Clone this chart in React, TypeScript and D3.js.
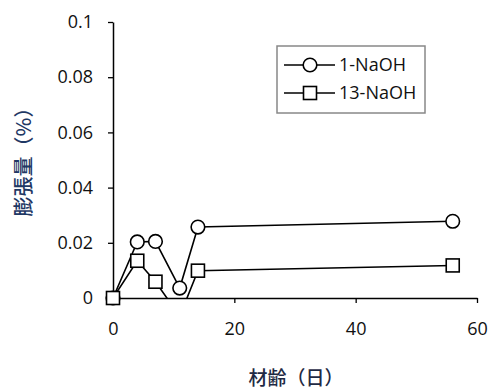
import React, { useRef, useEffect } from "react";
import * as d3 from "d3";

const days1 = [0, 4, 7, 11, 14, 56];
const vals1 = [0, 0.0203, 0.0205, 0.0036, 0.0257, 0.0278];
const days13 = [0, 4, 7, 11, 14, 56];
const vals13 = [0, 0.0135, 0.0059, -0.0066, 0.0099, 0.0118];
const seriesNames = ["1-NaOH", "13-NaOH"];
const xTicks = [0, 20, 40, 60];
const yTicks = [0, 0.02, 0.04, 0.06, 0.08, 0.1];

const W = 488;
const H = 390;

const App = () => {
  const svgRef = useRef<SVGSVGElement>(null);

  useEffect(() => {
    const svg = d3.select(svgRef.current);
    svg.selectAll("*").remove();

    const x = d3.scaleLinear().domain([0, 60]).range([113, 477]);
    const y = d3.scaleLinear().domain([0, 0.1]).range([298, 22]);
    const font = "'Open Sans', 'Liberation Sans', sans-serif";
    const cjk = "'Noto Sans CJK JP', sans-serif";

    svg
      .append("defs")
      .append("clipPath")
      .attr("id", "plot")
      .append("rect")
      .attr("x", x(0))
      .attr("y", y(0.1))
      .attr("width", x(60) - x(0))
      .attr("height", y(0) - y(0.1));

    // axes
    const yAxis = svg.append("g").attr("transform", `translate(${x(0)},0)`);
    yAxis.call(d3.axisLeft(y).tickValues(yTicks).tickSize(5).tickSizeOuter(0).tickFormat((d) => (d === 0 ? "0" : d3.format("")(+d))));
    yAxis.select(".domain").attr("stroke-width", 1.5);
    yAxis.selectAll(".tick line").attr("stroke-width", 1.3);
    yAxis
      .selectAll(".tick text")
      .attr("x", -20)
      .attr("font-size", 18)
      .attr("font-family", font)
      .attr("fill", "#111");

    const xAxis = svg.append("g").attr("transform", `translate(0,${y(0)})`);
    xAxis.call(d3.axisBottom(x).tickValues(xTicks).tickSize(5).tickSizeOuter(0));
    xAxis.select(".domain").attr("stroke-width", 1.5);
    xAxis.selectAll(".tick line").attr("stroke-width", 1.3);
    xAxis
      .selectAll(".tick text")
      .attr("y", 24)
      .attr("font-size", 18)
      .attr("font-family", font)
      .attr("fill", "#111");

    const series = [
      { name: seriesNames[0], pts: days1.map((d, i) => [d, vals1[i]]), shape: "circle" },
      { name: seriesNames[1], pts: days13.map((d, i) => [d, vals13[i]]), shape: "square" },
    ];

    const line = d3
      .line<number[]>()
      .x((d) => x(d[0]))
      .y((d) => y(d[1]));

    const marker = (g: any, shape: string, cx: number, cy: number) => {
      if (shape === "circle") {
        g.append("circle")
          .attr("cx", cx)
          .attr("cy", cy)
          .attr("r", 6.8)
          .attr("fill", "#fff")
          .attr("stroke", "#000")
          .attr("stroke-width", 1.6);
      } else {
        g.append("rect")
          .attr("x", cx - 6.5)
          .attr("y", cy - 6.5)
          .attr("width", 13)
          .attr("height", 13)
          .attr("fill", "#fff")
          .attr("stroke", "#000")
          .attr("stroke-width", 1.6);
      }
    };

    series.forEach((s) => {
      svg
        .append("path")
        .datum(s.pts)
        .attr("clip-path", "url(#plot)")
        .attr("fill", "none")
        .attr("stroke", "#000")
        .attr("stroke-width", 1.6)
        .attr("d", line);
    });
    series.forEach((s) => {
      const g = svg.append("g");
      s.pts.filter((p) => p[1] >= 0).forEach((p) => marker(g, s.shape, x(p[0]), y(p[1])));
    });

    // legend
    const lg = svg.append("g");
    lg.append("rect")
      .attr("x", 277)
      .attr("y", 46)
      .attr("width", 148)
      .attr("height", 67)
      .attr("fill", "#fff")
      .attr("stroke", "#888")
      .attr("stroke-width", 1.5);
    series.forEach((s, i) => {
      const cy = 65 + i * 28;
      lg.append("line")
        .attr("x1", 284)
        .attr("x2", 335)
        .attr("y1", cy)
        .attr("y2", cy)
        .attr("stroke", "#000")
        .attr("stroke-width", 1.6);
      marker(lg, s.shape, 310, cy);
      lg.append("text")
        .attr("x", 339)
        .attr("y", cy)
        .attr("dy", "0.35em")
        .attr("font-size", 18)
        .attr("font-family", font)
        .attr("fill", "#111")
        .text(s.name);
    });

    // titles
    svg
      .append("text")
      .attr("x", 296)
      .attr("y", 378)
      .attr("text-anchor", "middle")
      .attr("dy", "0.35em")
      .attr("font-size", 19)
      .attr("font-family", cjk)
      .attr("font-weight", 500)
      .attr("fill", "#1f2a44")
      .text("材齢（日）");
    svg
      .append("text")
      .attr("transform", `translate(24,157) rotate(-90)`)
      .attr("text-anchor", "middle")
      .attr("dy", "0.35em")
      .attr("font-size", 20)
      .attr("font-family", cjk)
      .attr("font-weight", 500)
      .attr("fill", "#1f3864")
      .text("膨張量（%）");
  }, []);

  return (
    <div style={{ position: "absolute", left: 0, top: 0 }}>
      <svg ref={svgRef} width={W} height={H} style={{ display: "block", background: "#fff" }}></svg>
    </div>
  );
};

export default App;
